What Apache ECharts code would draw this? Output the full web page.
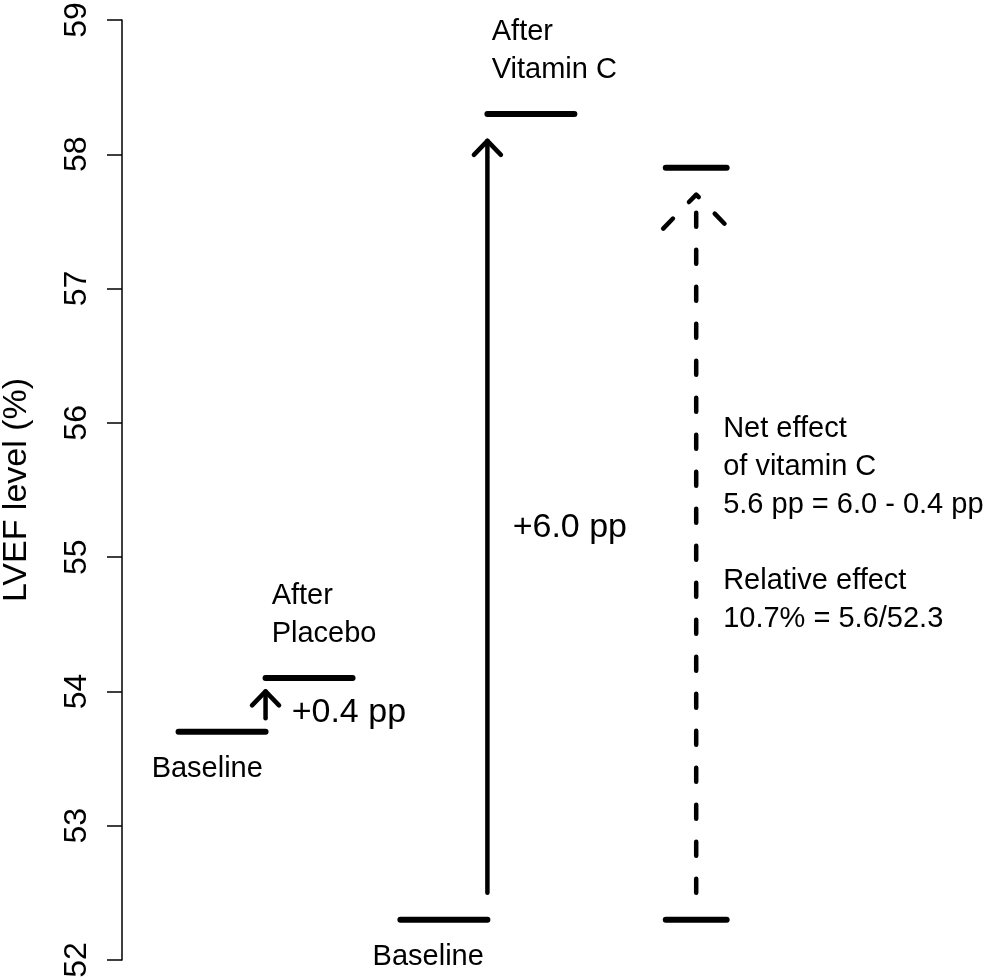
<!DOCTYPE html>
<html>
<head>
<meta charset="utf-8">
<script src="https://cdn.jsdelivr.net/npm/echarts@6/dist/echarts.min.js"></script>
<style>
html,body{margin:0;padding:0;background:#fff;}
#chart{width:992px;height:980px;}
</style>
</head>
<body>
<div id="chart"></div>
<script>
// ---- data ----
const yTicks = [52, 53, 54, 55, 56, 57, 58, 59];
const yTitle = 'LVEF level (%)';

// horizontal level bars: start x, end x, LVEF level
const levelStart = [0.65, 1.65, 3.2, 4.2, 6.25, 6.25];
const levelEnd   = [1.65, 2.65, 4.2, 5.2, 6.95, 6.95];
const levelValue = [53.7, 54.1, 52.3, 58.3, 52.3, 57.9];

// change arrows: x, from, to
const arrowX    = [1.65, 4.2];
const arrowFrom = [53.8, 52.5];
const arrowTo   = [54.0, 58.1];
const netArrowX    = [6.6];
const netArrowFrom = [52.5];
const netArrowTo   = [57.7];

// text notes
const noteText = ['Baseline', 'After\nPlacebo', 'Baseline', 'After\nVitamin C',
  'Net effect\nof vitamin C\n5.6 pp = 6.0 - 0.4 pp\n\nRelative effect\n10.7% = 5.6/52.3'];
const noteX = [0.98, 1.72, 3.52, 4.25, 6.91];
const noteY = [53.42, 54.57, 52.02, 58.77, 55.25];
const noteAlign = ['center', 'left', 'center', 'left', 'left'];

const changeText = ['+0.4 pp', '+6.0 pp'];
const changeX = [1.95, 4.49];
const changeY = [53.84, 55.22];

// ---- chart ----
const FONT = '"Liberation Sans", Arial, Helvetica, sans-serif';
const chart = echarts.init(document.getElementById('chart'));

function segItem(params, api) {
  const y = api.value(2);
  const a = api.coord([api.value(0), y]);
  const b = api.coord([api.value(1), y]);
  return {type: 'line', shape: {x1: a[0], y1: a[1], x2: b[0], y2: b[1]},
    style: {stroke: '#000', lineWidth: 6, lineCap: 'round'}};
}
function arrowRenderer(hw, hl, dash) {
  return function (params, api) {
    const x = api.value(0);
    const p0 = api.coord([x, api.value(1)]);
    const p1 = api.coord([x, api.value(2)]);
    const st = {stroke: '#000', lineWidth: 4.5, lineCap: 'round', lineJoin: 'round', fill: null};
    if (dash) { st.lineDash = dash; }
    return {type: 'group', children: [
      {type: 'line', shape: {x1: p0[0], y1: p0[1], x2: p1[0], y2: p1[1]}, style: Object.assign({}, st)},
      {type: 'polyline', shape: {points: [[p1[0] - hw, p1[1] + hl], [p1[0], p1[1]], [p1[0] + hw, p1[1] + hl]]},
        style: Object.assign({}, st)}
    ]};
  };
}
function textRenderer(texts, aligns, size, lh) {
  return function (params, api) {
    const p = api.coord([api.value(0), api.value(1)]);
    const i = params.dataIndex;
    return {type: 'text', style: {text: texts[i], x: p[0], y: p[1],
      align: aligns ? aligns[i] : 'left', verticalAlign: 'middle',
      fontSize: size, fontFamily: FONT, lineHeight: lh, fill: '#000'}};
  };
}

chart.setOption({
  animation: false,
  backgroundColor: '#fff',
  grid: {left: 122, right: 0, top: 20, bottom: 20, containLabel: false, outerBoundsMode: 'none'},
  xAxis: {type: 'value', min: 0, max: 10, show: false},
  yAxis: {
    type: 'value', min: yTicks[0], max: yTicks[yTicks.length - 1], interval: 1,
    name: yTitle, nameLocation: 'middle', nameRotate: 90, nameGap: 88,
    nameTextStyle: {fontSize: 34, fontFamily: FONT, color: '#000'},
    axisLine: {show: true, lineStyle: {color: '#000', width: 1.5}},
    axisTick: {show: true, length: 15, lineStyle: {color: '#000', width: 1.5}},
    axisLabel: {rotate: 90, margin: 29, fontSize: 32, fontFamily: FONT, color: '#000',
      formatter: v => String(v)},
    splitLine: {show: false}
  },
  series: [
    {type: 'custom', renderItem: segItem, clip: false,
      data: levelValue.map((v, i) => [levelStart[i], levelEnd[i], v])},
    {type: 'custom', renderItem: arrowRenderer(13.5, 14, null), clip: false,
      data: arrowX.map((x, i) => [x, arrowFrom[i], arrowTo[i]])},
    {type: 'custom', renderItem: arrowRenderer(33, 34, [14, 23]), clip: false,
      data: netArrowX.map((x, i) => [x, netArrowFrom[i], netArrowTo[i]])},
    {type: 'custom', renderItem: textRenderer(noteText, noteAlign, 29, 38), clip: false,
      data: noteX.map((x, i) => [x, noteY[i]])},
    {type: 'custom', renderItem: textRenderer(changeText, null, 34, 40), clip: false,
      data: changeX.map((x, i) => [x, changeY[i]])}
  ]
});
</script>
</body>
</html>
